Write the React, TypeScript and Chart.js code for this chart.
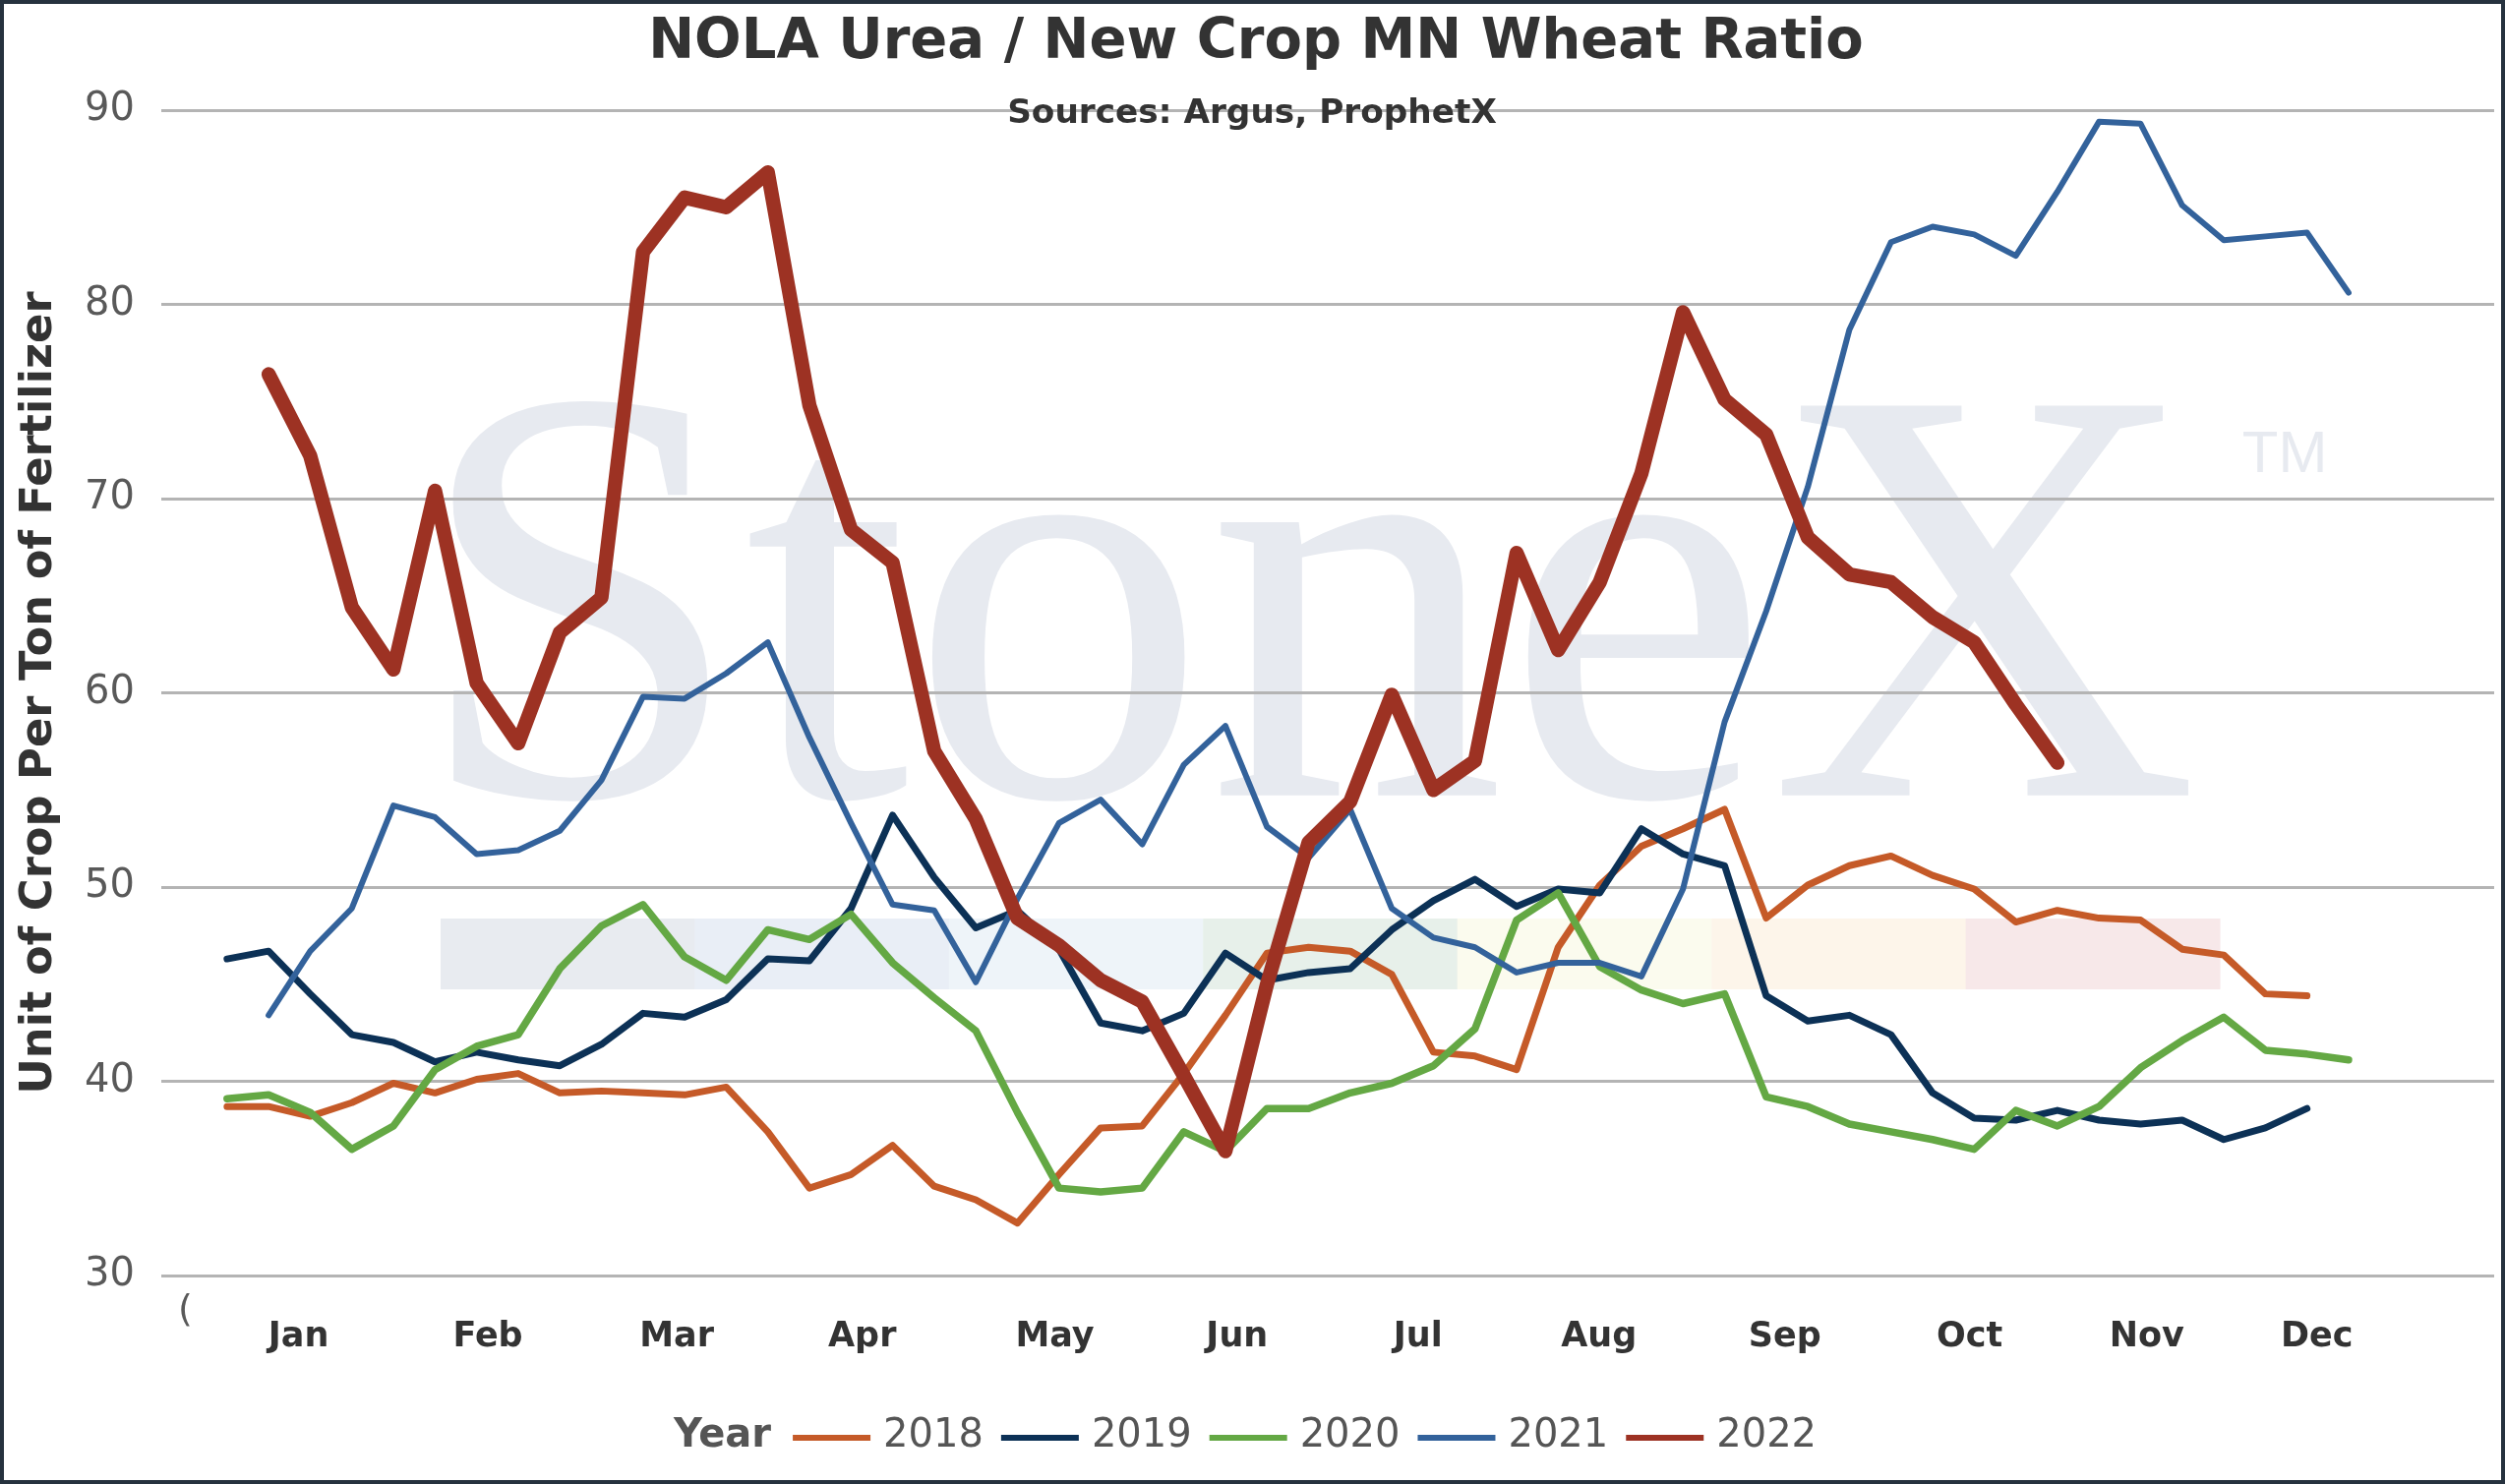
import React, { useEffect, useRef } from 'react';
import { Chart, registerables } from 'chart.js';

Chart.register(...registerables);
Chart.defaults.font.family = '"DejaVu Sans"';

const W = 2547;
const H = 1509;

// weekly points, week 1 .. 52
const weeks = [
  1, 2, 3, 4, 5, 6, 7, 8, 9, 10, 11, 12, 13, 14, 15, 16, 17, 18, 19, 20, 21, 22, 23, 24, 25, 26,
  27, 28, 29, 30, 31, 32, 33, 34, 35, 36, 37, 38, 39, 40, 41, 42, 43, 44, 45, 46, 47, 48, 49, 50, 51, 52,
];
const monthNames = ['Jan', 'Feb', 'Mar', 'Apr', 'May', 'Jun', 'Jul', 'Aug', 'Sep', 'Oct', 'Nov', 'Dec'];
// week where each month label sits
const monthWeeks = [2.72, 7.27, 11.81, 16.27, 20.9, 25.28, 29.63, 33.98, 38.45, 42.89, 47.15, 51.24];
const yTicks = [30, 40, 50, 60, 70, 80, 90];

const years = ['2018', '2019', '2020', '2021', '2022'];
const ratio2018 = [
  38.7, 38.7, 38.2, 38.9, 39.9, 39.4, 40.1, 40.4, 39.4, 39.5, 39.4, 39.3, 39.7, 37.4, 34.5, 35.2, 36.7,
  34.6, 33.9, 32.7, 35.2, 37.6, 37.7, 40.4, 43.4, 46.6, 46.9, 46.7, 45.5, 41.5, 41.3, 40.6, 46.9, 50.1,
  52.1, 53.0, 54.0, 48.4, 50.1, 51.1, 51.6, 50.6, 49.9, 48.2, 48.8, 48.4, 48.3, 46.8, 46.5, 44.5, 44.4,
];
const ratio2019 = [
  46.3, 46.7, 44.5, 42.4, 42.0, 41.0, 41.5, 41.1, 40.8, 41.9, 43.5, 43.3, 44.2, 46.3, 46.2, 48.9, 53.7,
  50.5, 47.9, 48.8, 46.8, 43.0, 42.6, 43.5, 46.6, 45.2, 45.6, 45.8, 47.8, 49.3, 50.4, 49.0, 49.9, 49.7,
  53.0, 51.7, 51.1, 44.4, 43.1, 43.4, 42.4, 39.4, 38.1, 38.0, 38.5, 38.0, 37.8, 38.0, 37.0, 37.6, 38.6,
];
const ratio2020 = [
  39.1, 39.3, 38.4, 36.5, 37.7, 40.6, 41.8, 42.4, 45.8, 48.0, 49.1, 46.4, 45.2, 47.8, 47.3, 48.6, 46.1,
  44.3, 42.6, 38.4, 34.5, 34.3, 34.5, 37.4, 36.4, 38.6, 38.6, 39.4, 39.9, 40.8, 42.7, 48.3, 49.7, 45.9,
  44.7, 44.0, 44.5, 39.2, 38.7, 37.8, 37.4, 37.0, 36.5, 38.5, 37.7, 38.7, 40.7, 42.1, 43.3, 41.6, 41.4, 41.1,
];
const ratio2021 = [
  null, 43.4, 46.7, 48.9, 54.2, 53.6, 51.7, 51.9, 52.9, 55.5, 59.8, 59.7, 61.0, 62.6, 57.7, 53.3, 49.1,
  48.8, 45.1, 49.4, 53.3, 54.5, 52.2, 56.3, 58.3, 53.1, 51.5, 54.0, 48.9, 47.4, 46.9, 45.6, 46.1, 46.1,
  45.4, 49.9, 58.5, 64.2, 70.6, 78.7, 83.2, 84.0, 83.6, 82.5, 85.8, 89.4, 89.3, 85.1, 83.3, 83.5, 83.7, 80.6,
];
const ratio2022 = [
  null, 76.4, 72.2, 64.4, 61.2, 70.4, 60.5, 57.4, 63.1, 64.9, 82.7, 85.5, 85.0, 86.8, 74.8, 68.4, 66.7,
  57.0, 53.5, 48.4, 47.0, 45.2, 44.1, 40.3, 36.4, 45.0, 52.3, 54.4, 59.9, 55.0, 56.5, 67.2, 62.2, 65.7,
  71.3, 79.6, 75.1, 73.3, 68.0, 66.1, 65.7, 63.9, 62.6, 59.4, 56.4,
];
const seriesValues = [ratio2018, ratio2019, ratio2020, ratio2021, ratio2022];

const yearColors = ['#c55a28', '#0c3156', '#64a844', '#33629b', '#9d3223'];
const lineWidths = [7, 7, 7.5, 6, 14.5];
const bandColors = ['#e8ebf0', '#e9eef6', '#eef4f9', '#e7f0ea', '#fbfbee', '#fdf5ea', '#f7e8e9'];

const titleText = 'NOLA Urea / New Crop MN Wheat Ratio';
const subtitleText = 'Sources: Argus, ProphetX';
const yTitleText = 'Unit of Crop Per Ton of Fertilizer';

const fitSize = (ctx: CanvasRenderingContext2D, text: string, weight: string, family: string, width: number) => {
  ctx.font = `${weight} 100px ${family}`;
  return (100 * width) / ctx.measureText(text).width;
};

// faint StoneX logo behind the lines
const watermark = {
  id: 'watermark',
  beforeDraw(chart: Chart) {
    const { ctx, chartArea: ca } = chart;
    ctx.save();
    ctx.fillStyle = '#ffffff';
    ctx.fillRect(0, 0, chart.width, chart.height);

    const bx = ca.left + 0.1197 * ca.width;
    const bw = (0.7627 * ca.width) / bandColors.length;
    const by = ca.top + 0.6937 * ca.height;
    const bh = 0.0607 * ca.height;
    bandColors.forEach((c, i) => {
      ctx.fillStyle = c;
      ctx.fillRect(bx + i * bw, by, bw + 0.5, bh);
    });

    ctx.fillStyle = '#e7eaf0';
    ctx.font = '600px "Liberation Serif"';
    let m = ctx.measureText('StoneX');
    const size = (600 * 0.7487 * ca.width) / (m.actualBoundingBoxLeft + m.actualBoundingBoxRight);
    ctx.font = `${size}px "Liberation Serif"`;
    m = ctx.measureText('StoneX');
    ctx.textAlign = 'left';
    ctx.textBaseline = 'alphabetic';
    ctx.fillText('StoneX', ca.left + 0.1239 * ca.width + m.actualBoundingBoxLeft, ca.top + 0.588 * ca.height);

    ctx.font = `${0.0506 * ca.height}px "Liberation Sans"`;
    ctx.fillText('TM', ca.left + 0.892 * ca.width, ca.top + 0.3105 * ca.height);
    ctx.restore();
  },
};

const annotations = {
  id: 'annotations',
  afterDraw(chart: Chart) {
    const { ctx, chartArea: ca } = chart;
    ctx.save();
    ctx.textAlign = 'center';
    ctx.textBaseline = 'alphabetic';
    ctx.fillStyle = '#333333';

    let s = fitSize(ctx, titleText, 'bold', '"DejaVu Sans"', 1236);
    ctx.font = `bold ${s}px "DejaVu Sans"`;
    ctx.fillText(titleText, 1277, 59);

    s = fitSize(ctx, subtitleText, 'bold', '"DejaVu Sans"', 498);
    ctx.font = `bold ${s}px "DejaVu Sans"`;
    ctx.fillText(subtitleText, 1273, 125);

    ctx.save();
    ctx.translate(40, (ca.top + ca.bottom) / 2);
    ctx.rotate(-Math.PI / 2);
    s = fitSize(ctx, yTitleText, 'bold', '"DejaVu Sans"', 816);
    ctx.font = `bold ${s}px "DejaVu Sans"`;
    ctx.textBaseline = 'middle';
    ctx.fillText(yTitleText, 0, 0);
    ctx.restore();

    // legend: "Year" then a line and a label per year
    const ly = 1461;
    ctx.textAlign = 'left';
    ctx.textBaseline = 'middle';
    ctx.font = 'bold 40px "DejaVu Sans"';
    const yearW = ctx.measureText('Year').width;
    ctx.font = '40px "DejaVu Sans"';
    const labelW = years.map((y) => ctx.measureText(y).width);
    const total = yearW + 22 + labelW.reduce((a, w) => a + 79 + 13 + w, 0) + 18 * (years.length - 1);
    let x = 1266 - total / 2;
    ctx.fillStyle = '#555555';
    ctx.font = 'bold 40px "DejaVu Sans"';
    ctx.fillText('Year', x, ly);
    x += yearW + 22;
    ctx.font = '40px "DejaVu Sans"';
    years.forEach((y, i) => {
      ctx.strokeStyle = yearColors[i];
      ctx.lineWidth = 6;
      ctx.lineCap = 'butt';
      ctx.beginPath();
      ctx.moveTo(x, ly + 1);
      ctx.lineTo(x + 79, ly + 1);
      ctx.stroke();
      x += 79 + 13;
      ctx.fillStyle = '#555555';
      ctx.fillText(y, x, ly);
      x += labelW[i] + 18;
    });

    // clipped leftover label under the axis
    ctx.font = '38px "DejaVu Sans"';
    ctx.fillStyle = '#595959';
    ctx.fillText('(', ca.left + 17, ca.bottom + 36);

    ctx.strokeStyle = '#26323e';
    ctx.lineWidth = 4;
    ctx.strokeRect(2, 2, chart.width - 4, chart.height - 4);
    ctx.restore();
  },
};

export default function App() {
  const canvasRef = useRef<HTMLCanvasElement>(null);

  useEffect(() => {
    document.body.style.margin = '0';
    document.body.style.overflow = 'hidden';
    if (!canvasRef.current) return;

    const chart = new Chart(canvasRef.current, {
      type: 'line',
      data: {
        labels: weeks,
        datasets: years.map((y, i) => ({
          label: y,
          data: seriesValues[i],
          borderColor: yearColors[i],
          backgroundColor: yearColors[i],
          borderWidth: lineWidths[i],
          borderJoinStyle: 'round',
          borderCapStyle: 'round',
          pointRadius: 0,
          tension: 0,
          order: years.length - i,
        })),
      },
      options: {
        responsive: false,
        animation: false,
        devicePixelRatio: 1,
        layout: { padding: { top: 112, right: 11, bottom: 0, left: 0 } },
        plugins: {
          legend: { display: false },
          title: { display: false },
          tooltip: { enabled: false },
        },
        scales: {
          x: {
            type: 'linear',
            min: -0.58,
            max: 55.5,
            afterBuildTicks: (axis: any) => {
              axis.ticks = monthWeeks.map((v) => ({ value: v }));
            },
            afterFit: (axis: any) => {
              axis.height = 212;
            },
            grid: { display: false },
            border: { display: false },
            ticks: {
              autoSkip: false,
              maxRotation: 0,
              minRotation: 0,
              padding: 34,
              color: '#333333',
              font: { size: 35, weight: 'bold' },
              callback: (_v: any, i: number) => monthNames[i],
            },
          },
          y: {
            min: yTicks[0],
            max: yTicks[yTicks.length - 1],
            afterFit: (axis: any) => {
              axis.width = 164;
            },
            grid: { color: '#b4b4b4', lineWidth: 3, drawTicks: false },
            border: { display: false },
            ticks: { stepSize: 10, padding: 27, color: '#595959', font: { size: 40 } },
          },
        },
      },
      plugins: [watermark, annotations],
    });

    return () => chart.destroy();
  }, []);

  return <canvas ref={canvasRef} width={W} height={H} style={{ display: 'block', width: W, height: H }} />;
}
